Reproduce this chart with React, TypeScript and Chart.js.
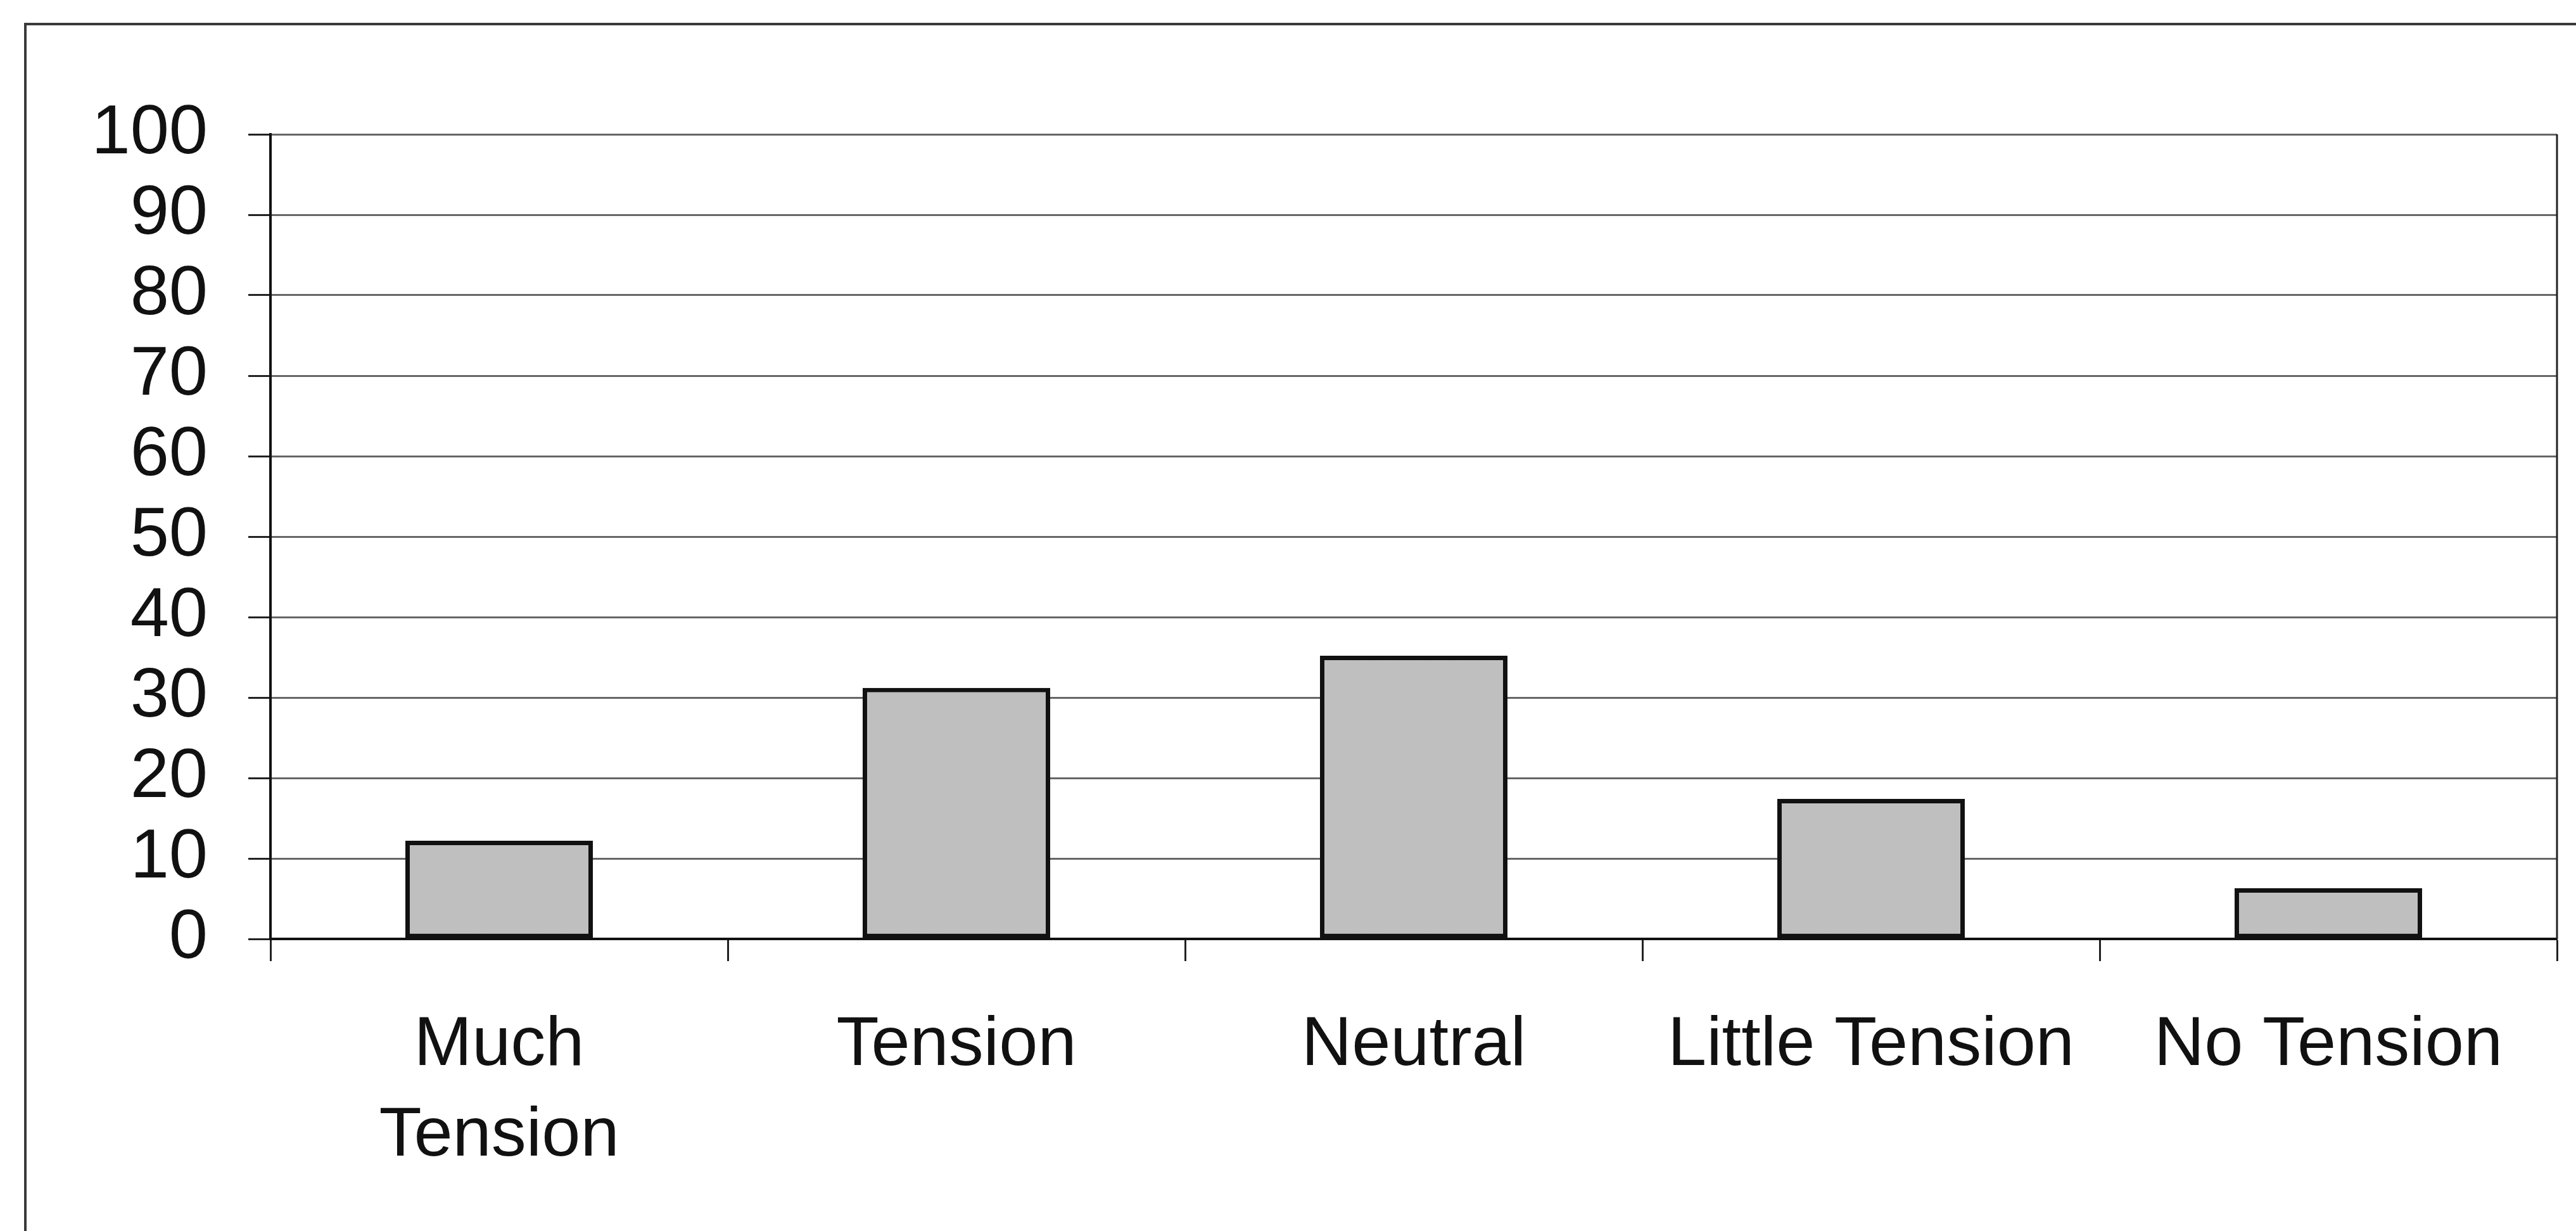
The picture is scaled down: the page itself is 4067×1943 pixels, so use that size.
import React, { useEffect, useRef } from "react";
import { Chart, registerables } from "chart.js";

Chart.register(...registerables);

const CATEGORIES: (string | string[])[] = [["Much", "Tension"], "Tension", "Neutral", "Little Tension", "No Tension"];
const VALUES: number[] = [12.2, 31.2, 35.2, 17.4, 6.3];
const Y_MIN = 0;
const Y_MAX = 100;
const Y_STEP = 10;

const W = 4067;
const H = 1943;
const FONT = "'Liberation Sans', Arial, Helvetica, sans-serif";

export default function App() {
  const ref = useRef<HTMLCanvasElement>(null);

  useEffect(() => {
    const canvas = ref.current!;
    const pc = document.createElement("canvas");
    pc.width = 2;
    pc.height = 2;
    const p = pc.getContext("2d")!;
    p.fillStyle = "#d2d2d2";
    p.fillRect(0, 0, 2, 2);
    p.fillStyle = "#acacac";
    p.fillRect(0, 0, 1, 1);
    p.fillRect(1, 1, 1, 1);
    const pattern = canvas.getContext("2d")!.createPattern(pc, "repeat");

    const framePlugin = {
      id: "frame",
      beforeDraw(chart: any) {
        const c = chart.ctx;
        c.save();
        c.fillStyle = "#ffffff";
        c.fillRect(0, 0, W, H);
        c.strokeStyle = "#3a3a3a";
        c.lineWidth = 4;
        c.beginPath();
        c.moveTo(40, H);
        c.lineTo(40, 38);
        c.lineTo(W, 38);
        c.stroke();
        c.restore();
      },
      afterDraw(chart: any) {
        const c = chart.ctx;
        const a = chart.chartArea;
        c.save();
        c.strokeStyle = "#222222";
        c.lineWidth = 3;
        c.beginPath();
        c.moveTo(a.right, a.top);
        c.lineTo(a.right, a.bottom);
        c.stroke();
        c.restore();
      },
    };

    const chart = new Chart(canvas, {
      type: "bar",
      data: {
        labels: CATEGORIES,
        datasets: [
          {
            data: VALUES,
            backgroundColor: pattern || "#c4c4c4",
            borderColor: "#111111",
            borderWidth: 7,
            borderSkipped: false,
            categoryPercentage: 1,
            barPercentage: 0.41,
          },
        ],
      },
      options: {
        responsive: false,
        animation: false,
        devicePixelRatio: 1,
        layout: { padding: { top: 212, right: 30, left: 0, bottom: 0 } },
        plugins: {
          legend: { display: false },
          tooltip: { enabled: false },
        },
        scales: {
          x: {
            offset: true,
            grid: {
              offset: true,
              drawOnChartArea: false,
              drawTicks: true,
              tickLength: 35,
              tickWidth: 3,
              tickColor: "#222222",
            },
            border: { display: true, color: "#111111", width: 4 },
            ticks: {
              padding: 62,
              color: "#111111",
              font: { family: FONT, size: 110, lineHeight: 1.3 },
              maxRotation: 0,
              minRotation: 0,
              autoSkip: false,
            },
            afterFit: (s: any) => {
              s.height = H - 1482;
            },
          },
          y: {
            min: Y_MIN,
            max: Y_MAX,
            ticks: {
              stepSize: Y_STEP,
              autoSkip: false,
              padding: 64,
              color: "#111111",
              font: { family: FONT, size: 110, lineHeight: 1.0 },
            },
            grid: {
              color: "#666666",
              lineWidth: 3,
              tickLength: 35,
              tickColor: "#222222",
              tickWidth: 3,
            },
            border: { display: true, color: "#111111", width: 4 },
            afterFit: (s: any) => {
              s.width = 427;
            },
          },
        },
      },
      plugins: [framePlugin],
    } as any);

    return () => chart.destroy();
  }, []);

  return (
    <div style={{ position: "absolute", left: 0, top: 0, width: W, height: H, overflow: "hidden", background: "#fff" }}>
      <canvas ref={ref} width={W} height={H} style={{ width: W, height: H, display: "block" }} />
    </div>
  );
}
